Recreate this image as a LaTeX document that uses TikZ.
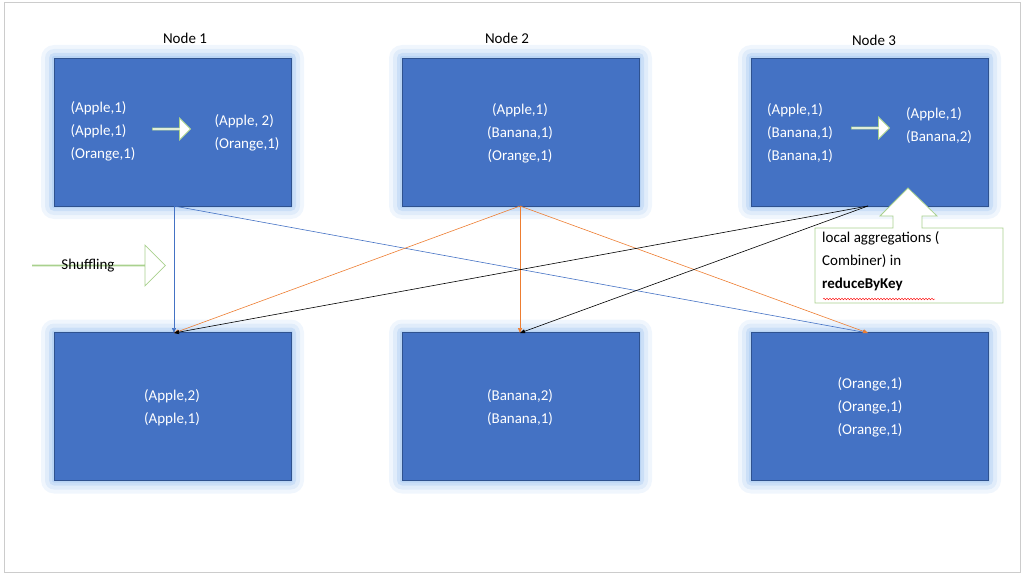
\documentclass[tikz,border=0pt]{standalone}
\usepackage{fontspec}
\setmainfont{Carlito}
\usetikzlibrary{arrows.meta,shapes.arrows,decorations.pathmorphing}
\definecolor{boxblue}{HTML}{4472C4}
\definecolor{boxedge}{HTML}{2F528F}
\definecolor{glowc}{HTML}{9DC3F0}
\definecolor{lineblue}{HTML}{4472C4}
\definecolor{lineorange}{HTML}{ED7D31}
\definecolor{calgreen}{HTML}{A9D18E}
\tikzset{
  box/.style={draw=boxedge,fill=boxblue,minimum width=237pt,minimum height=148pt,inner sep=0pt,
    text=white,font=\fontsize{15}{23}\selectfont,align=center},
  wtxt/.style={text=white,font=\fontsize{15}{23}\selectfont,align=left,inner sep=0pt},
  ttl/.style={font=\fontsize{15}{18}\selectfont},
  conn/.style={-{Triangle[length=5pt,width=4pt]},line width=0.6pt},
  warrow/.style={single arrow,draw=calgreen,fill=white,line width=0.8pt,inner sep=0pt,single arrow head extend=4pt,minimum height=38pt,minimum width=22pt}
}
\begin{document}
\begin{tikzpicture}[x=1pt,y=-1pt]
\useasboundingbox (0,0) rectangle (1024,575);
\draw[gray!40] (4,2) rectangle (1020,572);
% glow
\foreach \cx/\cy in {172.5/132,520.5/132,869.5/132,172.5/406.5,520.5/406.5,869.5/406.5}{
  \foreach \g/\o in {13/0.15,9/0.2,5/0.3,2/0.4}{
    \fill[glowc,opacity=\o,rounded corners=\g] (\cx-118.5-\g,\cy-74-\g) rectangle (\cx+118.5+\g,\cy+74+\g);}}
% boxes
\node[box] (t1) at (172.5,132) {};
\node[box] (t2) at (520.5,132) {};
\node[box] (t3) at (869.5,132) {};
\node[box] (b1) at (172.5,406.5) {};
\node[box] (b2) at (520.5,406.5) {};
\node[box] (b3) at (869.5,406.5) {};
\node[ttl] (n1) at (185,38) {Node 1};
\node[ttl] (n2) at (507,38) {Node 2};
\node[ttl] (n3) at (874,40) {Node 3};
% box contents
\node[wtxt] (t1a) at (103,131) {(Apple,1)\\(Apple,1)\\(Orange,1)};
\node[warrow] (t1arr) at (171,129) {};
\node[wtxt] (t1b) at (247,132.5) {(Apple, 2)\\(Orange,1)};
\node[wtxt,align=center] (t2a) at (520,133.5) {(Apple,1)\\(Banana,1)\\(Orange,1)};
\node[wtxt] (t3a) at (800,133.5) {(Apple,1)\\(Banana,1)\\(Banana,1)};
\node[warrow] (t3arr) at (870,128) {};
\node[wtxt] (t3b) at (939,125.5) {(Apple,1)\\(Banana,2)};
\node[wtxt,align=center] (b1a) at (172,407.5) {(Apple,2)\\(Apple,1)};
\node[wtxt,align=center] (b2a) at (520,407.5) {(Banana,2)\\(Banana,1)};
\node[wtxt,align=center] (b3a) at (870,407) {(Orange,1)\\(Orange,1)\\(Orange,1)};
% connector endpoints
\coordinate (s1) at (174,206);
\coordinate (s2) at (520,206);
\coordinate (s3) at (868,206);
\coordinate (e1) at (174,333);
\coordinate (e2) at (520,333);
\coordinate (e3) at (868,333);
\draw[conn,lineblue] (s1) -- (e1);
\draw[conn,lineblue] (s1) -- (e3);
\draw[conn,lineorange] (s2) -- (e1);
\draw[conn,lineorange] (s2) -- (e2);
\draw[conn,lineorange] (s2) -- (e3);
\draw[conn,black] (s3) -- (e1);
\draw[conn,black] (s3) -- (e2);
% shuffling arrow
\node[single arrow,draw=calgreen,fill=white,line width=0.8pt,minimum width=41pt,single arrow head extend=19pt,minimum height=133pt,inner sep=0pt,anchor=west] (shuf) at (32,265.5) {};
\node[font=\fontsize{15}{18}\selectfont] (shuft) at (88,266) {Shuffling};
% callout
\draw[calgreen,line width=0.8pt,fill=white] (815,228) -- (893,228) -- (893,216) -- (880,216) -- (908,188) -- (937,216) -- (922,216) -- (922,228) -- (1003,228) -- (1003,303) -- (815,303) -- cycle;
\node[font=\fontsize{15}{23}\selectfont,align=left,anchor=north west,inner sep=0pt] (call) at (822,231) {local aggregations (\\Combiner) in\\\textbf{reduceByKey}};
\draw[red,decorate,decoration={snake,amplitude=0.8pt,segment length=3pt},line width=0.4pt] (823,299) -- (935,299);
\end{tikzpicture}
\end{document}
